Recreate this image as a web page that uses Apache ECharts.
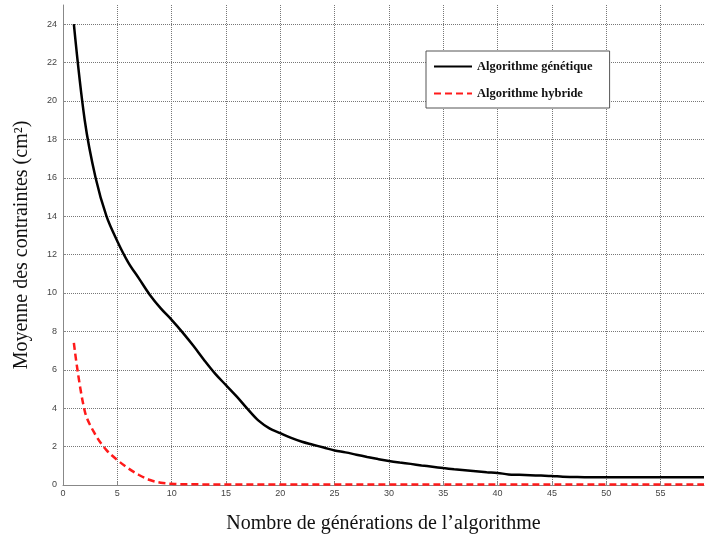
<!DOCTYPE html>
<html>
<head>
<meta charset="utf-8">
<script src="https://cdn.jsdelivr.net/npm/echarts@6/dist/echarts.min.js"></script>
<style>html,body{margin:0;padding:0;background:#fff}#c{width:706px;height:539px}</style>
</head>
<body>
<div id="c"></div>
<script>
const generations = [1,2,3,4,5,6,7,8,9,10,11,12,13,14,15,16,17,18,19,20,21,22,23,24,25,26,27,28,29,30,31,32,33,34,35,36,37,38,39,40,41,42,43,44,45,46,47,48,49,50,51,52,53,54,55,56,57,58,59];
const genetique = [24,19,16,14,12.7,11.6,10.75,9.9,9.2,8.6,7.95,7.25,6.5,5.8,5.2,4.6,3.95,3.35,2.95,2.7,2.45,2.25,2.1,1.95,1.8,1.7,1.58,1.46,1.35,1.25,1.17,1.1,1.02,0.95,0.88,0.82,0.77,0.72,0.67,0.63,0.55,0.53,0.51,0.49,0.47,0.43,0.42,0.41,0.41,0.4,0.4,0.4,0.4,0.4,0.4,0.4,0.4,0.4,0.4];
const hybride = [7.4,3.85,2.6,1.82,1.3,0.87,0.52,0.26,0.12,0.06,0.04,0.04,0.03,0.03,0.03,0.03,0.03,0.03,0.03,0.03,0.03,0.03,0.03,0.03,0.03,0.03,0.03,0.03,0.03,0.03,0.03,0.03,0.03,0.03,0.03,0.03,0.03,0.03,0.03,0.03,0.03,0.03,0.03,0.03,0.03,0.03,0.03,0.03,0.03,0.03,0.03,0.03,0.03,0.03,0.03,0.03,0.03,0.03,0.03];
const seriesNames = ['Algorithme génétique','Algorithme hybride'];
const xTitle = 'Nombre de générations de l’algorithme';
const yTitle = 'Moyenne des contraintes (cm²)';

const chart = echarts.init(document.getElementById('c'));
const pair = a => generations.map((g,i)=>[g,a[i]]);
const grid = {type:'dotted', color:'#777', width:1};
chart.setOption({
  animation:false,
  backgroundColor:'#fff',
  grid:{left:63, right:2, top:5, bottom:54, containLabel:false},
  legend:{
    orient:'vertical', left:426, top:51,
    padding:[9,17,8,7], itemGap:14, itemWidth:38, itemHeight:14,
    borderColor:'#555', borderWidth:1, backgroundColor:'#fff',
    itemStyle:{opacity:0},
    textStyle:{fontFamily:'Liberation Serif', fontWeight:'bold', fontSize:12.5, color:'#111'},
    data:seriesNames
  },
  xAxis:{
    type:'value', min:0, max:59, interval:5,
    name:xTitle, nameLocation:'middle', nameGap:29,
    nameTextStyle:{fontFamily:'Liberation Serif', fontSize:20, color:'#111'},
    axisLine:{show:true, onZero:false, lineStyle:{color:'#888'}},
    axisTick:{show:true, inside:true, length:3, lineStyle:{color:'#888'}},
    axisLabel:{fontSize:9, color:'#444', margin:4, showMaxLabel:false, fontFamily:'Liberation Sans'},
    splitLine:{show:true, showMinLine:false, showMaxLine:false, lineStyle:grid}
  },
  yAxis:{
    type:'value', min:0, max:25, interval:2,
    name:yTitle, nameLocation:'middle', nameGap:31, nameRotate:90,
    nameTextStyle:{fontFamily:'Liberation Serif', fontSize:20, color:'#111'},
    axisLine:{show:true, lineStyle:{color:'#888'}},
    axisTick:{show:true, inside:true, length:3, lineStyle:{color:'#888'}},
    axisLabel:{fontSize:9, color:'#444', margin:6, showMaxLabel:false, fontFamily:'Liberation Sans'},
    splitLine:{show:true, showMinLine:false, showMaxLine:false, lineStyle:grid}
  },
  series:[
    {name:seriesNames[0], type:'line', data:pair(genetique), symbol:'none', smooth:0.35,
     lineStyle:{color:'#000', width:2.5}, itemStyle:{color:'#000'}},
    {name:seriesNames[1], type:'line', data:pair(hybride), symbol:'none', smooth:0.35,
     lineStyle:{color:'#ff1a1a', width:2.5, type:[7,4]}, itemStyle:{color:'#ff1a1a'}}
  ]
});
</script>
</body>
</html>
